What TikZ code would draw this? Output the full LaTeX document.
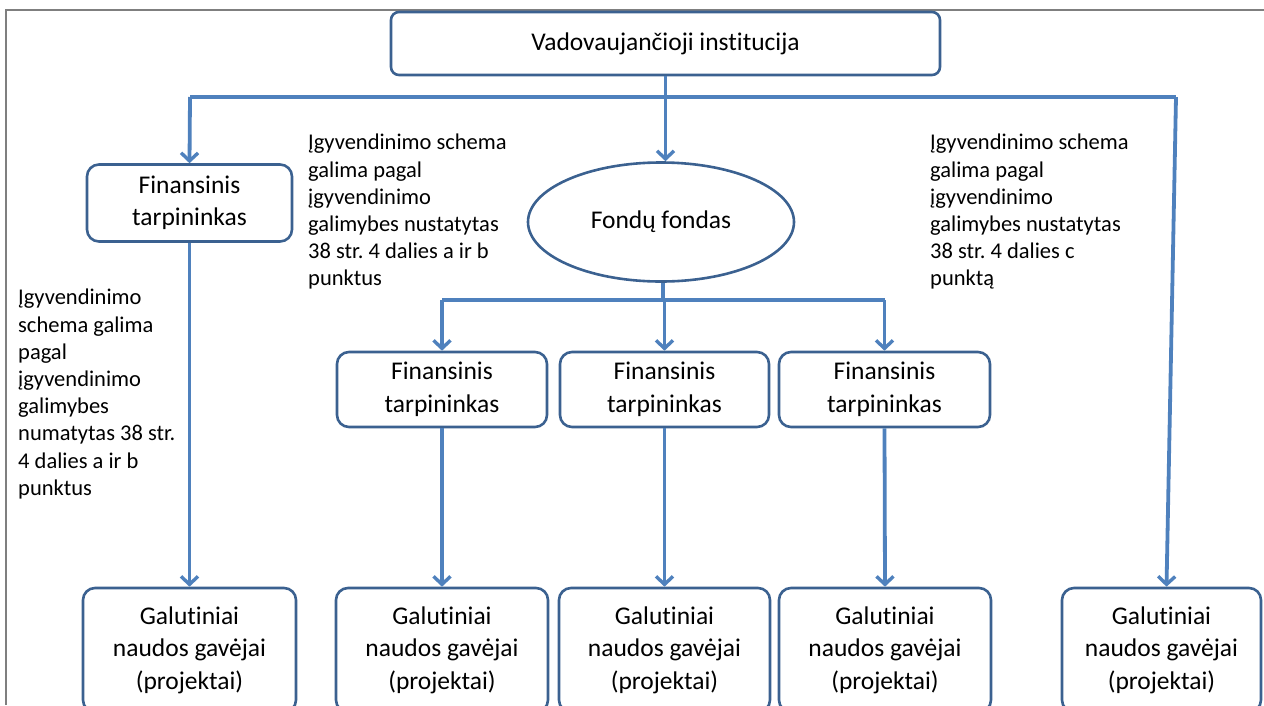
\documentclass[tikz,border=0pt]{standalone}
\usepackage{fontspec}
\setmainfont{Carlito}[Ligatures={NoCommon}]
\usepackage{xcolor}
\usepackage{tikz}
\usetikzlibrary{positioning, arrows.meta, shapes.geometric, calc}
\definecolor{boxblue}{HTML}{3B6190}
\definecolor{arrowblue}{HTML}{4F81BD}
\definecolor{framegray}{HTML}{7F7F7F}
\frenchspacing

\begin{document}
\begin{tikzpicture}[x=1pt, y=-1pt,
  font=\fontsize{25.5}{32.5}\selectfont,
  box/.style={draw=boxblue, line width=2.6pt, rounded corners=12pt, align=center, inner sep=0pt},
  link/.style={draw=arrowblue, line width=3.8pt},
  arr/.style={link, -{Straight Barb[length=8pt, width=17pt, line width=3.4pt]}},
  note/.style={anchor=north west, align=left, inner sep=0pt, font=\fontsize{22.5}{27.2}\selectfont}]
  \useasboundingbox (0,0) rectangle (1264,705);
  % frame
  \draw[framegray, line width=1.5pt] (6,705) -- (6,10) -- (1264,10);
  % top level
  \node[box, rounded corners=8pt, minimum width=549pt, minimum height=63pt] (inst) at (665.5,43.5) {Vadovaujančioji institucija};
  \node[box, minimum width=205pt, minimum height=77pt] (ftL) at (189.5,203) {Finansinis\\tarpininkas};
  \node[draw=boxblue, line width=2.6pt, ellipse, minimum width=266pt, minimum height=119pt] (fond) at (661,222) {Fondų fondas};
  % intermediaries under the fund of funds
  \node[box, minimum width=210pt, minimum height=75pt] (ft1) at (442,389.5) {Finansinis\\tarpininkas};
  \node[box, minimum width=209pt, minimum height=75pt] (ft2) at (664.5,389.5) {Finansinis\\tarpininkas};
  \node[box, minimum width=211pt, minimum height=75pt] (ft3) at (884.5,389.5) {Finansinis\\tarpininkas};
  % final recipients
  \node[box, minimum width=213pt, minimum height=124pt] (g0) at (189.5,650) {Galutiniai\\naudos gavėjai\\(projektai)};
  \node[box, minimum width=212pt, minimum height=124pt] (g1) at (442,650) {Galutiniai\\naudos gavėjai\\(projektai)};
  \node[box, minimum width=211pt, minimum height=124pt] (g2) at (664.5,650) {Galutiniai\\naudos gavėjai\\(projektai)};
  \node[box, minimum width=212pt, minimum height=124pt] (g3) at (885,650) {Galutiniai\\naudos gavėjai\\(projektai)};
  \node[box, minimum width=199pt, minimum height=124pt] (g4) at (1161.5,650) {Galutiniai\\naudos gavėjai\\(projektai)};
  % notes
  \node[note] (noteL) at (18,289) {Įgyvendinimo\\schema galima\\pagal\\įgyvendinimo\\galimybes\\numatytas 38 str.\\4 dalies a ir b\\punktus};
  \node[note] (noteM) at (308,134) {Įgyvendinimo schema\\galima pagal\\įgyvendinimo\\galimybes nustatytas\\38 str. 4 dalies a ir b\\punktus};
  \node[note] (noteR) at (930,134) {Įgyvendinimo schema\\galima pagal\\įgyvendinimo\\galimybes nustatytas\\38 str. 4 dalies c\\punktą};
  % upper bus
  \coordinate (busL) at (190,97);
  \coordinate (busR) at (1176,97);
  \coordinate (busM) at (inst.south |- busL);
  \draw[link] (inst.south) -- (busM);
  \draw[link] (busL) -- (busR);
  \draw[arr] (busL) -- (ftL.north);
  \draw[arr] (busM) -- (busM |- fond.north);
  \draw[arr] (busR) -- ($(g4.north)+(5,0)$);
  % lower bus
  \coordinate (fondBus) at (663,300);
  \draw[link] (fondBus |- fond.south) -- (fondBus);
  \draw[link] (ft1.north |- fondBus) -- (ft3.north |- fondBus);
  \foreach \n in {ft1, ft2, ft3}
    \draw[arr] (\n.north |- fondBus) -- (\n.north);
  % down to final recipients
  \draw[arr] (ftL.south) -- (g0.north);
  \draw[arr] (ft1.south) -- (g1.north);
  \draw[arr] (ft2.south) -- (g2.north);
  \draw[arr] (ft3.south) -- (g3.north);
\end{tikzpicture}
\end{document}
